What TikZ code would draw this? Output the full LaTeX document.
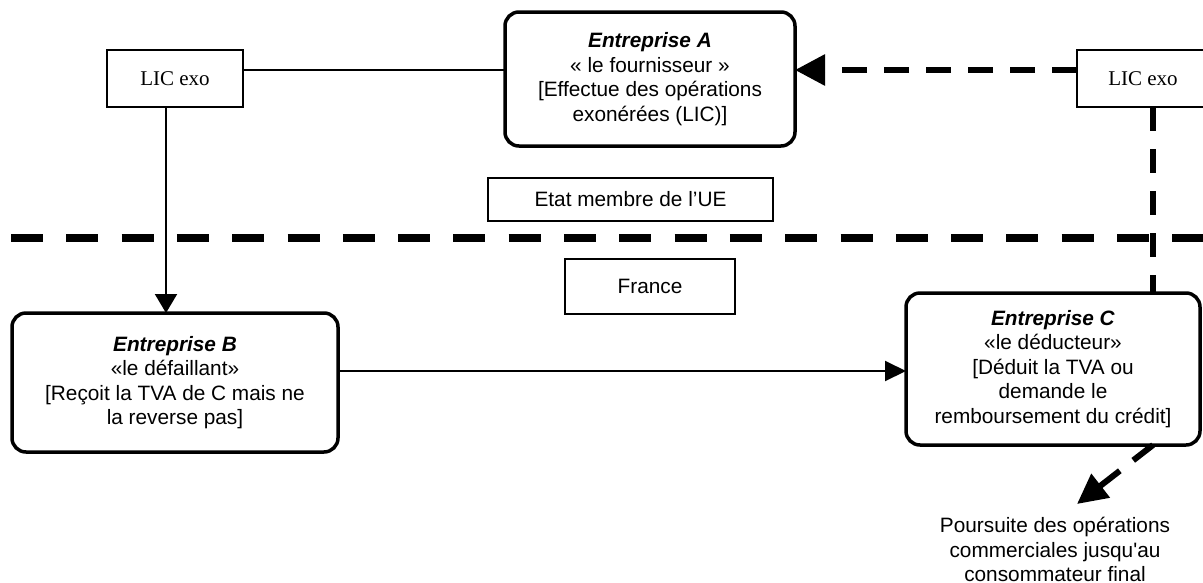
\documentclass[tikz,border=0pt]{standalone}
\usepackage{fontspec}
\setmainfont{Liberation Sans}
\newfontfamily\timesf{Liberation Serif}
\usetikzlibrary{arrows.meta}
\begin{document}
\begin{tikzpicture}[x=1pt,y=-1pt,
  every node/.style={inner sep=0pt,outer sep=0pt,align=center,font=\fontsize{20.8}{24.5}\selectfont},
  licbox/.style={draw,line width=2pt,font=\timesf\fontsize{21}{25}\selectfont,minimum width=136pt,minimum height=57pt},
  plainbox/.style={draw,line width=2pt},
  entbox/.style={draw,line width=3.5pt,rounded corners=14pt},
  thinline/.style={line width=2pt},
  sepline/.style={line width=8pt,dash pattern=on 32pt off 23.3pt},
  flowdash/.style={line width=6pt,dash pattern=on 25pt off 17pt},
  vdash/.style={line width=6pt,dash pattern=on 24pt off 18pt},
]
\useasboundingbox (0,0) rectangle (1203,582);

% separator line
\coordinate (sepL) at (11,238);
\coordinate (sepR) at (1210,238);
\draw[sepline] (sepL) -- (sepR);

% nodes
\node[licbox] (lic1) at (175,78.5) {LIC exo};
\node[entbox,minimum width=290pt,minimum height=134pt] (A) at (650,79)
  {\textbf{\textit{Entreprise A}}\\« le fournisseur »\\{[}Effectue des opérations\\exonérées (LIC)]};
\node[licbox,minimum width=132pt] (lic2) at (1143,78.5) {LIC exo};
\node[plainbox,minimum width=285pt,minimum height=43pt] (etat) at (630.5,199.5) {Etat membre de l’UE};
\node[plainbox,minimum width=170pt,minimum height=55pt] (france) at (650,286.5) {France};
\node[entbox,minimum width=326pt,minimum height=139pt] (B) at (175,382.5)
  {\textbf{\textit{Entreprise B}}\\«le défaillant»\\{[}Reçoit la TVA de C mais ne\\la reverse pas]};
\node[entbox,minimum width=294pt,minimum height=152pt] (C) at (1053,369)
  {\textbf{\textit{Entreprise C}}\\«le déducteur»\\{[}Déduit la TVA ou\\demande le\\remboursement du crédit]};
\node (pours) at (1055,549.5)
  {Poursuite des opérations\\commerciales jusqu\textquotesingle au\\consommateur final};
\coordinate (tipD) at (1077,504);

% connectors
\draw[thinline] ([yshift=8.5pt]lic1.east) -- ([yshift=8.5pt]lic1.east -| A.west);
\draw[thinline,-{Triangle[length=19pt,width=22pt]}] ([xshift=-9pt]lic1.south) -- ([xshift=-9pt]lic1.south |- B.north);
\draw[thinline,-{Triangle[length=21pt,width=20pt]}] ([yshift=11.5pt]B.east) -- ([yshift=11.5pt]B.east -| C.west);
\draw[flowdash,-{Triangle[length=30pt,width=30pt]}] ([yshift=8.5pt]lic2.west) -- ([yshift=8.5pt]lic2.west -| A.east);
\draw[vdash] ([xshift=10pt]lic2.south) -- ([xshift=10pt]lic2.south |- C.north);
\draw[flowdash,-{Triangle[length=30pt,width=29pt]}] ([xshift=100pt]C.south) -- (tipD);
\end{tikzpicture}
\end{document}
